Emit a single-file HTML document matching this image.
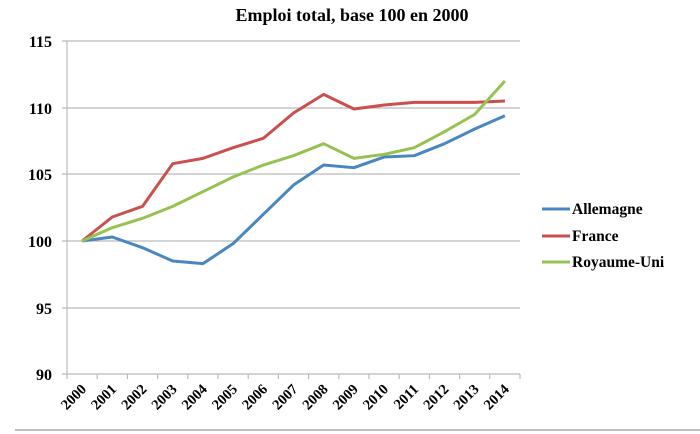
<!DOCTYPE html>
<html><head><meta charset="utf-8"><style>body{margin:0;background:#fff}svg{display:block}</style></head><body>
<svg width="700" height="434" xmlns="http://www.w3.org/2000/svg" font-family="Liberation Serif, serif" font-weight="bold">
<text x="352" y="21" font-size="18" text-anchor="middle">Emploi total, base 100 en 2000</text>
<g stroke="#bbb" stroke-width="1.2">
<line x1="62" y1="41" x2="520" y2="41"/><line x1="62" y1="108" x2="520" y2="108"/><line x1="62" y1="174" x2="520" y2="174"/><line x1="62" y1="241" x2="520" y2="241"/><line x1="62" y1="308" x2="520" y2="308"/><line x1="62" y1="374" x2="520" y2="374"/>
<line x1="67" y1="41" x2="67" y2="374"/>
</g>
<g stroke="#bbb" stroke-width="1.2" id="ticks"></g>
<g font-size="16" text-anchor="end">
<text x="52" y="47">115</text><text x="52" y="114">110</text><text x="52" y="180">105</text><text x="52" y="247">100</text><text x="52" y="314">95</text><text x="52" y="380">90</text>
</g>
<g id="xl" font-size="14.5"></g>
<g fill="none" stroke-width="3" stroke-linejoin="round">
<polyline id="de" stroke="#4a86c0"/><polyline id="fr" stroke="#c9504c"/><polyline id="uk" stroke="#98c153"/>
</g>
<line x1="542" y1="209" x2="570" y2="209" stroke="#4a86c0" stroke-width="3"/>
<line x1="542" y1="236" x2="570" y2="236" stroke="#c9504c" stroke-width="3"/>
<line x1="542" y1="262" x2="570" y2="262" stroke="#98c153" stroke-width="3"/>
<g font-size="15.5"><text x="572" y="214">Allemagne</text><text x="572" y="241">France</text><text x="572" y="267">Royaume-Uni</text></g>
<line x1="15" y1="430" x2="700" y2="430" stroke="#aaa" stroke-width="1.5"/>
</svg>
<script>
const de=[100,100.3,99.5,98.5,98.3,99.8,102,104.2,105.7,105.5,106.3,106.4,107.3,108.4,109.4];
const fr=[100,101.8,102.6,105.8,106.2,107.0,107.7,109.6,111.0,109.9,110.2,110.4,110.4,110.4,110.5];
const uk=[100,101.0,101.7,102.6,103.7,104.8,105.7,106.4,107.3,106.2,106.5,107.0,108.2,109.5,112.0];
const X=i=>82.1+i*30.2,Y=v=>241-(v-100)*13.33;
for(const [id,d] of [["de",de],["fr",fr],["uk",uk]])document.getElementById(id).setAttribute("points",d.map((v,i)=>X(i)+","+Y(v)).join(" "));
let t="",l="";
for(let i=0;i<=15;i++){const x=67+i*30.2;t+=`<line x1="${x}" y1="374" x2="${x}" y2="379"/>`;}
for(let i=0;i<15;i++){const x=X(i)+5,y=390;l+=`<text x="${x}" y="${y}" text-anchor="end" transform="rotate(-45 ${x} ${y})">${2000+i}</text>`;}
document.getElementById("ticks").innerHTML=t;document.getElementById("xl").innerHTML=l;
</script>
</body></html>
